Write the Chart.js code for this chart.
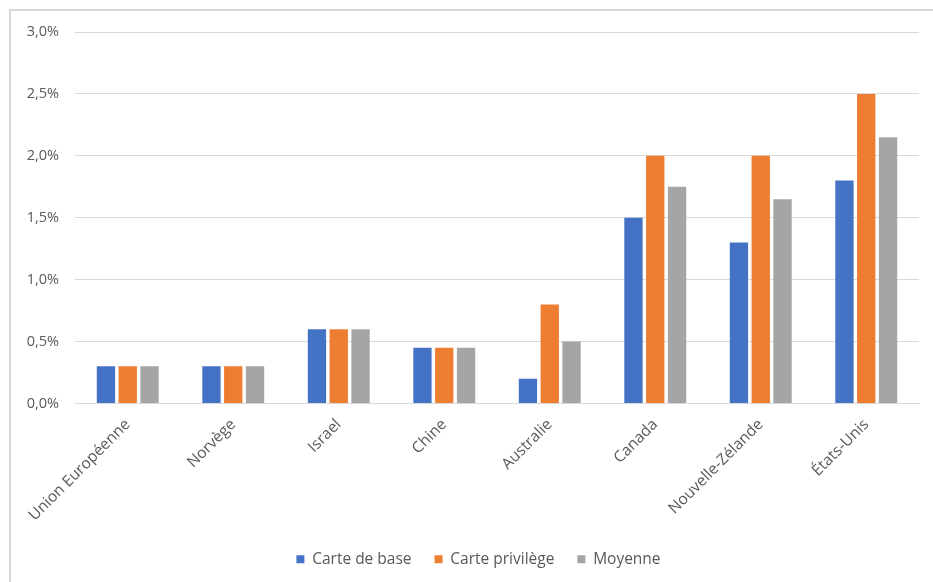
<!DOCTYPE html>
<html>
<head>
<meta charset="utf-8">
<script src="https://cdn.jsdelivr.net/npm/chart.js@4"></script>
<style>
  body { margin: 0; background: #fff; overflow: hidden; }
  #frame { position: absolute; left: 9px; top: 9px; width: 1000px; height: 1000px; border: 2px solid #d9d9d9; }
  #wrap { position: absolute; left: 0; top: 0; width: 933px; height: 582px; }
</style>
</head>
<body>
<div id="frame"></div>
<div id="wrap"><canvas id="chart"></canvas></div>
<script>
// valeurs en %
var pays = ['Union Européenne', 'Norvège', 'Israel', 'Chine', 'Australie', 'Canada', 'Nouvelle-Zélande', 'États-Unis'];
var carteBase = [0.3, 0.3, 0.6, 0.45, 0.2, 1.5, 1.3, 1.8];
var cartePrivilege = [0.3, 0.3, 0.6, 0.45, 0.8, 2.0, 2.0, 2.5];
var moyenne = [0.3, 0.3, 0.6, 0.45, 0.5, 1.75, 1.65, 2.15];
var yTicks = [0, 0.5, 1, 1.5, 2, 2.5, 3];

var colors = ['#4472c4', '#ed7d31', '#a5a5a5'];
var txt = '#595959';
var font = "'Open Sans', 'Noto Sans', sans-serif";

function ds(label, values, color){
  return {
    label: label,
    data: values,
    backgroundColor: color,
    borderWidth: 0,
    categoryPercentage: 0.62,
    barPercentage: 0.84
  };
}

// décale la légende un peu vers la droite, comme dans Excel
var legendShift = {
  id: 'legendShift',
  afterLayout: function(chart){
    if(chart.legend){
      chart.legend.left += 14;
      chart.legend.right += 14;
    }
  }
};

new Chart(document.getElementById('chart'), {
  type: 'bar',
  data: {
    labels: pays,
    datasets: [
      ds('Carte de base', carteBase, colors[0]),
      ds('Carte privilège', cartePrivilege, colors[1]),
      ds('Moyenne', moyenne, colors[2])
    ]
  },
  options: {
    responsive: true,
    maintainAspectRatio: false,
    animation: false,
    layout: { padding: { left: 10, right: 14, top: 32, bottom: 5 } },
    plugins: {
      tooltip: { enabled: false },
      legend: {
        position: 'bottom',
        labels: {
          color: txt,
          font: { family: font, size: 15.5 },
          boxWidth: 8,
          boxHeight: 8,
          padding: 23
        }
      }
    },
    scales: {
      x: {
        grid: { display: false, drawTicks: false },
        border: { color: '#d9d9d9', width: 1 },
        ticks: {
          color: txt,
          font: { family: font, size: 15.5 },
          maxRotation: 45,
          minRotation: 45,
          padding: 12,
          autoSkip: false
        },
        afterFit: function(scale){ scale.height = 125; }
      },
      y: {
        min: 0,
        max: 3,
        afterBuildTicks: function(scale){
          scale.ticks = yTicks.map(function(v){ return { value: v }; });
        },
        grid: { color: '#d9d9d9', lineWidth: 1, drawTicks: false },
        border: { display: false },
        ticks: {
          color: txt,
          font: { family: font, size: 14.5 },
          padding: 16,
          callback: function(v){ return v.toFixed(1).replace('.', ',') + '%'; }
        },
        afterFit: function(scale){ scale.width = 65; }
      }
    }
  },
  plugins: [legendShift]
});
</script>
</body>
</html>
